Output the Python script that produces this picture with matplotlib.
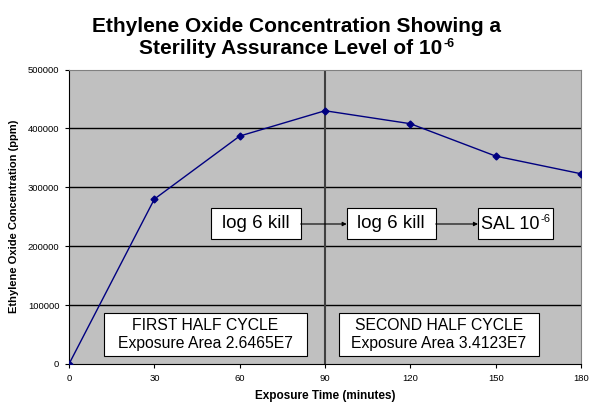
import matplotlib
matplotlib.use("Agg")
import matplotlib.pyplot as plt
from matplotlib.patches import Rectangle

plt.rcParams['font.family'] = ['Liberation Sans', 'DejaVu Sans']

minutes = [0, 30, 60, 90, 120, 150, 180]
conc = [0, 280000, 387000, 430000, 408000, 353000, 323000]
yticks = [0, 100000, 200000, 300000, 400000, 500000]
xticks = [0, 30, 60, 90, 120, 150, 180]

fig = plt.figure(figsize=(5.93, 4.03), dpi=100)
ax = fig.add_axes([0.1164, 0.0968, 0.8634, 0.7307])
ax.set_facecolor('#C0C0C0')

for y in yticks[1:-1]:
    ax.axhline(y, color='black', lw=1, zorder=1)
ax.axvline(90, color='#404040', lw=1.5, zorder=2)

ax.plot(minutes, conc, color='#000080', lw=1, marker='D', ms=3.5, zorder=3)

ax.set_xlim(0, 180)
ax.set_ylim(0, 500000)
ax.set_xticks(xticks)
ax.set_yticks(yticks)
ax.set_xticklabels([str(v) for v in xticks], fontsize=6.8)
ax.set_yticklabels([str(v) for v in yticks], fontsize=6.8)
ax.tick_params(length=3, width=0.8, pad=4)
for s in ['top', 'right']:
    ax.spines[s].set_color('#808080')
for s in ['left', 'bottom']:
    ax.spines[s].set_color('black')

ax.set_xlabel('Exposure Time (minutes)', fontsize=8.5, fontweight='bold', labelpad=5)
ax.set_ylabel('Ethylene Oxide Concentration (ppm)', fontsize=8, fontweight='bold', labelpad=6)

fig.text(0.5, 0.935, 'Ethylene Oxide Concentration Showing a', ha='center', va='center',
         fontsize=15, fontweight='bold')
t2 = fig.text(0.49, 0.88, 'Sterility Assurance Level of 10', ha='center', va='center',
              fontsize=15, fontweight='bold')
fig.canvas.draw()
bb = t2.get_window_extent().transformed(fig.transFigure.inverted())
fig.text(bb.x1 + 0.002, bb.y1 - 0.012, '-6', ha='left', va='center', fontsize=9, fontweight='bold')


def box(x0, x1, y0, y1, label, size):
    ax.add_patch(Rectangle((x0, y0), x1 - x0, y1 - y0, transform=ax.transAxes,
                           facecolor='white', edgecolor='black', lw=0.8, zorder=4))
    return ax.text((x0 + x1) / 2, (y0 + y1) / 2, label, transform=ax.transAxes, ha='center',
                   va='center', fontsize=size, zorder=5, linespacing=1.2)


box(0.2768, 0.4525, 0.4245, 0.5297, 'log 6 kill', 13.5)
box(0.5424, 0.7162, 0.4245, 0.5297, 'log 6 kill', 13.5)
sal = ax.text(0.805, 0.472, 'SAL 10', transform=ax.transAxes, ha='left', va='center',
              fontsize=13, zorder=5)
ax.add_patch(Rectangle((0.7988, 0.4245), 0.9453 - 0.7988, 0.5297 - 0.4245, transform=ax.transAxes,
                       facecolor='white', edgecolor='black', lw=0.8, zorder=4))
fig.canvas.draw()
sb = sal.get_window_extent().transformed(ax.transAxes.inverted())
ax.text(sb.x1 + 0.002, sb.y1 - 0.008, '-6', transform=ax.transAxes, ha='left', va='center',
        fontsize=8, zorder=5)

box(0.0684, 0.4648, 0.0272, 0.1732, 'FIRST HALF CYCLE\nExposure Area 2.6465E7', 11.3)
box(0.5273, 0.918, 0.0272, 0.1732, 'SECOND HALF CYCLE\nExposure Area 3.4123E7', 11.3)

for a, b in [(0.4525, 0.5424), (0.7162, 0.7988)]:
    ax.annotate('', xy=(b, 0.4754), xytext=(a, 0.4754), xycoords='axes fraction',
                arrowprops=dict(arrowstyle='-|>', color='black', lw=0.8,
                                shrinkA=0, shrinkB=0, mutation_scale=6), zorder=4)

fig.savefig('out.png', dpi=100)
